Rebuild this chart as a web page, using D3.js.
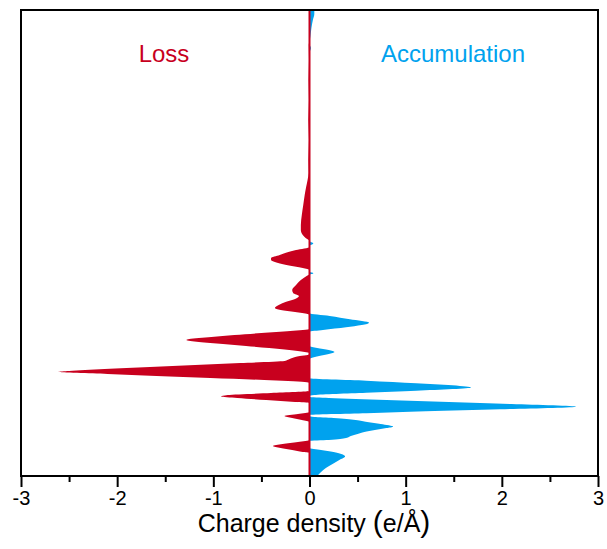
<!DOCTYPE html>
<html>
<head>
<meta charset="utf-8">
<script src="https://cdn.jsdelivr.net/npm/d3@7/dist/d3.min.js"></script>
<style>
  html, body { margin: 0; padding: 0; background: #fff; }
  svg { display: block; font-family: Arial, "Liberation Sans", sans-serif; }
</style>
</head>
<body>
<svg id="chart" width="607" height="549"></svg>
<script>
// Plane-averaged charge density difference along z (Å)
// Loss (negative) and accumulation (positive) channels.
const lossZ = [0.0, 2.3, 2.4, 2.6, 2.8, 3.0, 3.2, 3.4, 3.6, 5.4, 5.6, 5.8, 6.0, 6.2, 6.4,
  7.3, 7.4, 7.6, 7.8, 7.95, 8.1, 8.3, 8.5, 9.3, 9.4, 9.6, 9.8, 10.0, 10.2, 10.4, 10.5,
  10.7, 10.9, 11.1, 11.3, 11.5, 11.6, 11.8, 12.0, 12.1, 12.2, 12.3, 12.4, 12.6, 12.8,
  13.0, 13.2, 13.4, 13.6, 13.7, 13.9, 14.1, 14.3, 14.5, 14.7, 16.1, 16.2, 16.4, 16.6,
  16.8, 17.1, 17.4, 17.7, 18.0, 18.3, 18.6, 19.1, 19.6, 20.0, 20.2, 20.6, 20.8, 21.1,
  21.4, 21.6, 21.8, 22.1, 22.4, 22.6, 22.9, 23.5, 23.8, 24.1, 24.6, 25.1, 26.1, 27.1,
  28.1, 28.9, 29.6, 30.3, 31.6, 33.6, 35.6, 37.6, 39.6, 41.6, 43.1, 43.6, 46.6];
const lossVal = [0, 0, -0.07, -0.18, -0.30, -0.38, -0.28, -0.12, 0, 0, -0.08, -0.18, -0.26, -0.12, 0,
  0, -0.15, -0.45, -0.75, -0.92, -0.85, -0.40, 0, 0, -0.05, -0.47, -1.03, -1.59, -2.10, -2.61, -2.50,
  -2.13, -1.66, -1.19, -0.72, -0.26, -0.23, -0.18, -0.10, -0.02, 0, 0, -0.05, -0.21, -0.42,
  -0.66, -0.90, -1.15, -1.28, -1.25, -1.02, -0.78, -0.50, -0.20, 0, 0, -0.02, -0.15, -0.30,
  -0.36, -0.32, -0.25, -0.15, -0.11, -0.17, -0.18, -0.14, -0.09, -0.03, 0, 0, -0.07, -0.24,
  -0.36, -0.40, -0.40, -0.31, -0.22, -0.14, 0, 0, -0.04, -0.07, -0.09, -0.09, -0.08, -0.065,
  -0.05, -0.035, -0.02, -0.01, -0.012, -0.006, -0.012, -0.006, -0.01, -0.005, -0.008, 0, 0];

const gainZ = [0.0, 0.4, 0.8, 1.2, 1.6, 1.95, 2.2, 2.4, 2.6, 2.8, 3.5, 3.6, 3.8, 4.0, 4.2,
  4.4, 4.6, 4.8, 4.93, 5.2, 5.4, 5.6, 5.8, 5.9, 6.0, 6.1, 6.27, 6.47, 6.67, 6.93, 7.2,
  7.4, 7.6, 7.8, 7.9, 8.0, 8.1, 8.33, 8.53, 8.85, 9.27, 9.53, 9.77, 11.7, 11.8, 12.0,
  12.2, 12.4, 12.6, 12.8, 13.0, 14.43, 14.6, 14.87, 15.33, 15.67, 16.0, 16.27, 20.1,
  20.27, 20.45, 23.0, 23.25, 23.5, 42.3, 42.8, 43.2, 44.0, 44.8, 45.6, 46.2, 46.6];
const gainVal = [0.08, 0.12, 0.17, 0.24, 0.31, 0.37, 0.33, 0.25, 0.12, 0, 0, 0.20, 0.38, 0.43, 0.50,
  0.57, 0.68, 0.80, 0.87, 0.74, 0.60, 0.48, 0.25, 0.05, 0, 0, 0.59, 1.21, 1.98, 2.77, 2.10,
  1.45, 0.80, 0.20, 0, 0, 0.05, 0.59, 1.11, 1.68, 1.11, 0.59, 0, 0, 0.02, 0.10,
  0.20, 0.26, 0.20, 0.08, 0, 0, 0.14, 0.38, 0.62, 0.42, 0.21, 0, 0,
  0.04, 0, 0, 0.04, 0, 0, 0.015, 0, 0.01, 0.02, 0.035, 0.05, 0.05];

const xTicks = [-3, -2, -1, 0, 1, 2, 3];
const xMinorTicks = [-2.5, -1.5, -0.5, 0.5, 1.5, 2.5];
const xTitle = "Charge density ";
const xUnit = "e/Å";
const labels = ["Loss", "Accumulation"];

const lossColor = "#C8001E";
const gainColor = "#00A2EE";

const svg = d3.select("#chart");
const m = { left: 21, right: 9, top: 10, bottom: 73 };
const W = 607, H = 549;
const x = d3.scaleLinear().domain([-3, 3]).range([m.left, W - m.right]);
const y = d3.scaleLinear().domain([0, 46.6]).range([H - m.bottom, m.top]);

const loss = lossZ.map((z, i) => ({ z, v: lossVal[i] }));
const gain = gainZ.map((z, i) => ({ z, v: gainVal[i] }));

const area = d3.area()
  .y(d => y(d.z))
  .x0(x(0))
  .x1(d => x(d.v))
  .curve(d3.curveMonotoneY);

svg.append("path").datum(gain).attr("d", area).attr("fill", gainColor);
svg.append("path").datum(loss).attr("d", area).attr("fill", lossColor);

// zero reference line
svg.append("line")
  .attr("x1", x(0)).attr("x2", x(0))
  .attr("y1", y(46.6)).attr("y2", y(0))
  .attr("stroke", lossColor).attr("stroke-width", 2);

// bottom axis with major and minor ticks
const axisG = svg.append("g").attr("transform", `translate(0,${y(0)})`);
axisG.call(d3.axisBottom(x).tickValues(xTicks).tickSize(11).tickPadding(4)
  .tickFormat(d => d < 0 ? "-" + Math.abs(d) : String(d)));
axisG.append("g").call(d3.axisBottom(x).tickValues(xMinorTicks).tickSize(6).tickFormat(""));
axisG.selectAll(".domain").remove();
axisG.selectAll("line").attr("stroke", "#000").attr("stroke-width", 2);
axisG.selectAll("text").attr("font-size", 20).attr("fill", "#000")
  .attr("font-family", "Arial, 'Liberation Sans', sans-serif");

// frame
svg.append("rect")
  .attr("x", m.left).attr("y", m.top)
  .attr("width", W - m.left - m.right).attr("height", H - m.top - m.bottom)
  .attr("fill", "none").attr("stroke", "#000").attr("stroke-width", 2);

// axis title
const t = svg.append("text")
  .attr("x", 314).attr("y", 532)
  .attr("text-anchor", "middle").attr("font-size", 25).attr("fill", "#000");
t.append("tspan").text(xTitle);
t.append("tspan").attr("font-size", 30).text("(");
t.append("tspan").text(xUnit);
t.append("tspan").attr("font-size", 30).text(")");

// channel labels
svg.append("text").attr("x", 164).attr("y", 62).attr("text-anchor", "middle")
  .attr("font-size", 24).attr("fill", lossColor).text(labels[0]);
svg.append("text").attr("x", 453).attr("y", 62).attr("text-anchor", "middle")
  .attr("font-size", 24).attr("fill", gainColor).text(labels[1]);
</script>
</body>
</html>
